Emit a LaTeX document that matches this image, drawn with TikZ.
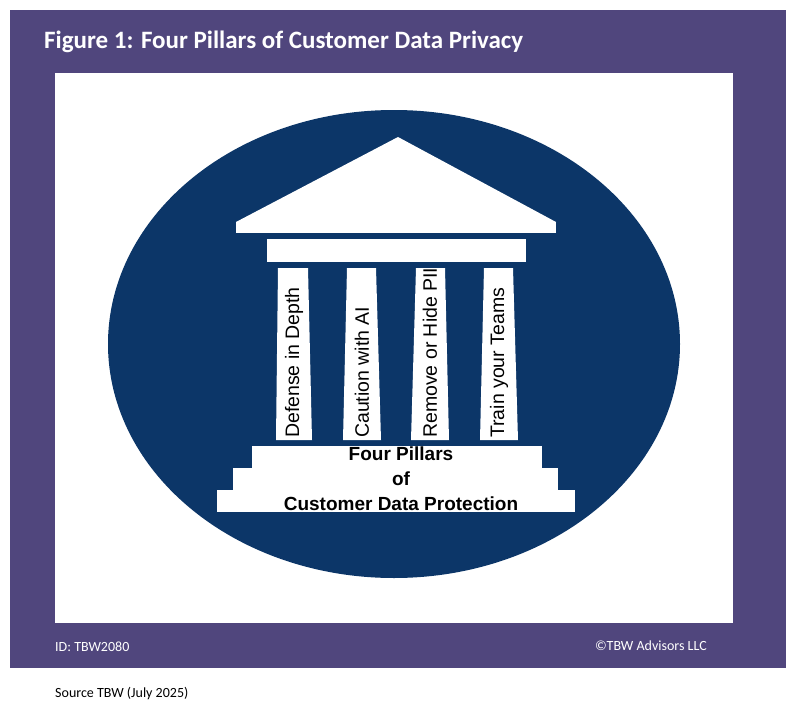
\documentclass[tikz,border=0pt]{standalone}
\usepackage{fontspec}
\setmainfont{Carlito}
\newfontfamily\pillarfont{Liberation Sans}
\definecolor{frame}{RGB}{80,70,125}
\definecolor{navy}{RGB}{12,54,104}
\begin{document}
\begin{tikzpicture}[x=1pt,y=-1pt,
  stone/.style={fill=white},
  pillarlabel/.style={rotate=90,font=\pillarfont\fontsize{19.5}{19.5}\selectfont,text=black,inner sep=1pt},
  foot/.style={font=\fontsize{14}{14}\selectfont,text=white}]
  \useasboundingbox (0,0) rectangle (796,720);
  \fill[white] (0,0) rectangle (796,720);
  \fill[frame] (10,10) rectangle (786,668);
  \fill[white] (55,73) rectangle (733,623);
  \node[anchor=west,font=\bfseries\fontsize{25}{25}\selectfont,text=white,inner sep=0pt] (title) at (44,42) {Figure 1: Four Pillars of Customer Data Privacy};
  % disc
  \fill[navy] (394,344) ellipse (286 and 234);
  % roof
  \fill[stone] (236,222) -- (398,137) -- (556,222) -- cycle;
  \fill[stone] (236,222) rectangle (556,233);
  \fill[stone] (267,239) rectangle (526,262);
  % pillars
  \foreach \tl/\tr/\bl/\br/\txt [count=\i] in {278/308/276/312/Defense in Depth,
      347/376/343/381/Caution with AI,
      416/445/411/449/Remove or Hide PII,
      484/513/480/518/Train your Teams}{
    \fill[stone] (\tl,268) -- (\tr,268) -- (\br,440) -- (\bl,440) -- cycle;
    \node[pillarlabel,anchor=west] (p\i) at ({(\bl+\br)/2},439) {\txt};
  }
  % steps
  \fill[stone] (252,446) rectangle (542,468);
  \fill[stone] (233,468) rectangle (558,490);
  \fill[stone] (217,490) rectangle (575,512);
  \node[font=\pillarfont\bfseries\fontsize{19}{25}\selectfont,align=center] (base) at (401,479) {Four Pillars\\of\\Customer Data Protection};
  \node[foot,anchor=base west,inner sep=0pt] (id) at (55,651) {ID: TBW2080};
  \node[foot,anchor=base east,inner sep=0pt] (copy) at (707,650) {©TBW Advisors LLC};
  \node[anchor=west,font=\fontsize{14}{14}\selectfont,inner sep=0pt] (src) at (55,694) {Source TBW (July 2025)};
\end{tikzpicture}
\end{document}
